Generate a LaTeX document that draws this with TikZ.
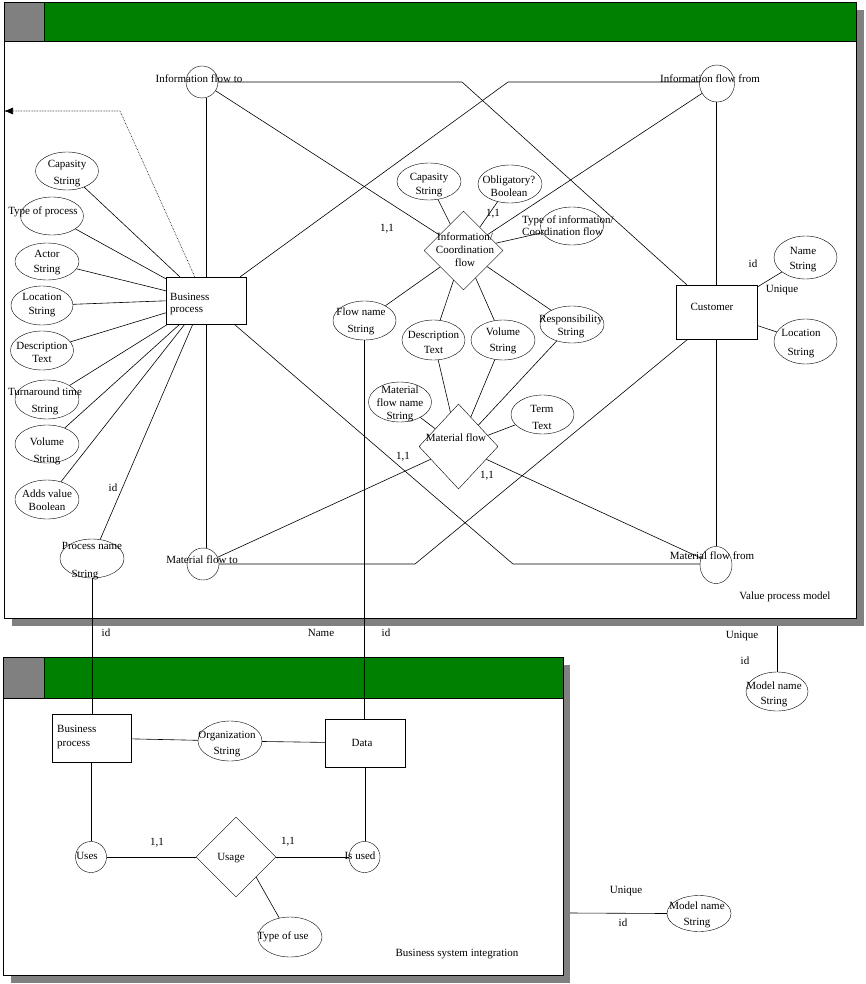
\documentclass[tikz,border=0pt]{standalone}
\usepackage{fontspec}
\setmainfont{Liberation Serif}
\usetikzlibrary{shapes.geometric,calc,arrows.meta}
\definecolor{hdrgreen}{RGB}{0,128,0}
\definecolor{shadowgray}{RGB}{128,128,128}
\begin{document}
\begin{tikzpicture}[x=1pt,y=-1pt,
  every node/.style={font=\fontsize{11}{12}\selectfont},
  attr/.style={draw, ellipse, inner sep=0pt},
  ent/.style={draw, rectangle, inner sep=0pt},
  rel/.style={draw, diamond, inner sep=0pt},
  txt/.style={inner sep=0pt, align=center},
  conn/.style={draw, line width=0.6pt},
  frame/.style={line width=0.8pt}]
\useasboundingbox (0,0) rectangle (866,984);

% ---------- frames ----------
\fill[shadowgray] (12,10) rectangle (864,626);
\draw[frame, fill=white] (4,2) rectangle (856,618);
\draw[frame, fill=hdrgreen] (4,2) rectangle (856,41);
\draw[frame, fill=shadowgray] (4,2) rectangle (44,41);

\fill[shadowgray] (11,665) rectangle (570,983);
\draw[frame, fill=white] (3,657) rectangle (563,975);
\draw[frame, fill=hdrgreen] (3,657) rectangle (563,698);
\draw[frame, fill=shadowgray] (3,657) rectangle (44,698);

% ---------- entities / relationships ----------
\node[ent, minimum width=80, minimum height=47] (bp) at (206,300.5) {};
\node[txt, anchor=west, align=left] (bpt) at (170,304) {Business\\process};
\node[ent, minimum width=81, minimum height=54] (cust) at (716.5,312) {};
\node[txt] (custt) at (712,307) {Customer};

\node[attr, minimum width=32, minimum height=32] (ifto) at (202,82) {};
\node[attr, minimum width=35, minimum height=37] (iffrom) at (717,83.5) {};
\node[attr, minimum width=32, minimum height=32] (mfto) at (203,564) {};
\node[attr, minimum width=32, minimum height=37] (mffrom) at (716,565) {};

\node[rel, minimum width=79, minimum height=79] (info) at (463.5,250.5) {};
\node[rel, minimum width=79, minimum height=85] (mat) at (458.5,446.5) {};

% left attributes
\node[attr, minimum width=63, minimum height=38] (capL) at (67,171) {};
\node[attr, minimum width=63, minimum height=38] (typ) at (52,216) {};
\node[attr, minimum width=64, minimum height=37] (actor) at (47,261.5) {};
\node[attr, minimum width=62, minimum height=39] (location) at (42,305.5) {};
\node[attr, minimum width=63, minimum height=39] (descL) at (42,350.5) {};
\node[attr, minimum width=64, minimum height=39] (turn) at (47,399.5) {};
\node[attr, minimum width=64, minimum height=38] (volL) at (47,444) {};
\node[attr, minimum width=64, minimum height=39] (adds) at (47,499.5) {};
\node[attr, minimum width=64, minimum height=39] (procname) at (92,558.5) {};

% middle attributes
\node[attr, minimum width=64, minimum height=37] (capM) at (429,181.5) {};
\node[attr, minimum width=64, minimum height=38] (oblig) at (510,184) {};
\node[attr, minimum width=63, minimum height=38] (typeinfo) at (572,226) {};
\node[attr, minimum width=63, minimum height=39] (flowname) at (364.5,320.5) {};
\node[attr, minimum width=63, minimum height=40] (descM) at (433.5,340) {};
\node[attr, minimum width=64, minimum height=40] (volM) at (503,340) {};
\node[attr, minimum width=64, minimum height=37] (resp) at (572,324.5) {};
\node[attr, minimum width=63, minimum height=40] (matname) at (400,402) {};
\node[attr, minimum width=63, minimum height=39] (term) at (542.5,414.5) {};

% right attributes
\node[attr, minimum width=63, minimum height=43] (nameR) at (805.5,257.5) {};
\node[attr, minimum width=63, minimum height=45] (locR) at (805.5,341.5) {};
\node[attr, minimum width=62, minimum height=39] (modelA) at (777,691.5) {};
\node[attr, minimum width=64, minimum height=36] (modelB) at (699,913.5) {};

% bottom frame
\node[ent, minimum width=79, minimum height=48] (bp2) at (91.5,738) {};
\node[txt, anchor=west, align=left] (bp2t) at (57,737) {Business\\[2pt]process};
\node[attr, minimum width=64, minimum height=40] (org) at (230,741) {};
\node[ent, minimum width=80, minimum height=48] (data) at (365,743) {};
\node[txt] (datat) at (362,743) {Data};
\node[attr, minimum width=31, minimum height=31] (uses) at (91,857) {};
\node[rel, minimum width=80, minimum height=80] (usage) at (236,857) {};
\node[txt] (usaget) at (231,858) {Usage};
\node[attr, minimum width=31, minimum height=31] (isused) at (364.5,857) {};
\node[attr, minimum width=64, minimum height=40] (typeuse) at (290,937) {};

% ---------- connector coordinates ----------
\coordinate (kIF) at (508,82);
\coordinate (kIT) at (462,82);
\coordinate (kMT) at (415,564);
\coordinate (kMF) at (513,564);
\coordinate (arrowend) at (4,111);
\coordinate (dotbend) at (120,111);
\coordinate (vpmedge) at (777,626);
\coordinate (bsiedge) at (570,913);

% ---------- connectors ----------
\draw[conn] (bp.north) -- (bp.north |- ifto.south);
\draw[conn] (bp.south) -- (bp.south |- mfto.north);
\draw[conn] (cust.north) -- (cust.north |- iffrom.south);
\draw[conn] (cust.south) -- (cust.south |- mffrom.north);
\draw[conn] (ifto) -- (info);
\draw[conn] (iffrom) -- (info);
\draw[conn] (mfto) -- (mat);
\draw[conn] (mffrom) -- (mat);
\draw[conn] ($(bp.north east)+(-6,0)$) -- (kIF) -- (kIF -| iffrom.west);
\draw[conn] (ifto.east) -- (kIT) -- ($(cust.north west)+(11,0)$);
\draw[conn] ($(bp.south east)+(-12,0)$) -- (kMF) -- (kMF -| mffrom.west);
\draw[conn] (mfto.east) -- (kMT) -- ($(cust.south west)+(12,0)$);

\draw[conn] (capL) -- ($(bp.north west)+(14,0)$);
\draw[conn] (typ) -- ($(bp.north west)+(0,2)$);
\draw[conn] (actor) -- ($(bp.north west)+(0,14)$);
\draw[conn] (location) -- ($(bp.north west)+(0,24)$);
\draw[conn] (descL) -- ($(bp.north west)+(0,36)$);
\draw[conn] (turn) -- ($(bp.south west)+(2,0)$);
\draw[conn] (volL) -- ($(bp.south west)+(14,0)$);
\draw[conn] (adds) -- ($(bp.south west)+(19,0)$);
\draw[conn] (procname) -- ($(bp.south west)+(27,0)$);
\draw[conn, densely dotted, -{Latex[length=9pt,width=7pt]}] ($(bp.north west)+(29,0)$) -- (dotbend) -- (arrowend);

\foreach \a in {capM,oblig,typeinfo,flowname,descM,volM,resp}
  \draw[conn] (\a) -- (info);
\foreach \a in {matname,descM,volM,resp,term}
  \draw[conn] (\a) -- (mat);

\draw[conn] (flowname.south) -- (flowname.south |- data.north);
\draw[conn] (procname.south) -- (procname.south |- bp2.north);
\draw[conn] (cust) -- (nameR);
\draw[conn] (cust) -- (locR);
\draw[conn] (bp2) -- (org);
\draw[conn] (org) -- (data);
\draw[conn] (bp2.south) -- (bp2.south |- uses.north);
\draw[conn] (data.south) -- (data.south |- isused.north);
\draw[conn] (uses) -- (usage);
\draw[conn] (usage) -- (isused);
\draw[conn] ($(usage.east)!0.5!(usage.south)$) -- (typeuse);
\draw[conn] (vpmedge) -- (modelA.north);
\draw[conn] (bsiedge) -- (modelB.west);

% ---------- texts ----------
\node[txt] (iftot) at (199,79) {Information flow to};
\node[txt] (iffromt) at (710,79) {Information flow from};
\node[txt] (mftot) at (202,560) {Material flow to};
\node[txt] (mffromt) at (712,556) {Material flow from};
\node[txt] (infot) at (465,250) {Information/\\[1pt]Coordination\\[1pt]flow};
\node[txt] (matt) at (456,438) {Material flow};

\node[txt] (capLt) at (67,173.5) {Capasity\\[5pt]String};
\node[txt] (typt) at (43,212) {Type of process};
\node[txt] (actort) at (47,262.5) {Actor\\[3pt]String};
\node[txt] (locationt) at (42,305) {Location\\[2pt]String};
\node[txt] (descLt) at (42,352.5) {Description\\[1pt]Text};
\node[txt] (turnt) at (45,401.5) {Turnaround time\\[5pt]String};
\node[txt] (volLt) at (47,451.5) {Volume\\[5pt]String};
\node[txt] (addst) at (47,500.5) {Adds value\\[1pt]Boolean};
\node[txt] (pn1) at (92,546) {Process name};
\node[txt] (pn2) at (85,575) {String};

\node[txt] (capMt) at (429,185) {Capasity\\[2pt]String};
\node[txt] (obligt) at (509,186.5) {Obligatory?\\[1pt]Boolean};
\node[txt, anchor=west, align=left] (typeinfot) at (522,226) {Type of information/\\Coordination flow};
\node[txt] (flownamet) at (361,321.5) {Flow name\\[5pt]String};
\node[txt] (descMt) at (433.5,342.5) {Description\\[3pt]Text};
\node[txt] (volMt) at (503,341) {Volume\\[4pt]String};
\node[txt] (respt) at (571,326.5) {Responsibility\\[1pt]String};
\node[txt] (matnamet) at (400,403.5) {Material\\[1pt]flow name\\[1pt]String};
\node[txt] (termt) at (542,417.5) {Term\\[5pt]Text};
\node[txt] (nameRt) at (803,259.5) {Name\\[3pt]String};
\node[txt] (locRt) at (801,343.5) {Location\\[7pt]String};
\node[txt] (modelAt) at (774,694.5) {Model name\\[3pt]String};
\node[txt] (modelBt) at (697,915) {Model name\\[4pt]String};

\node[txt] (orgt) at (227,744) {Organization\\[4pt]String};
\node[txt] (usest) at (87,856) {Uses};
\node[txt] (isusedt) at (360,856) {Is used};
\node[txt] (typeuset) at (283,937) {Type of use};

\node[txt] (l11a) at (387,229) {1,1};
\node[txt] (l11b) at (493,214) {1,1};
\node[txt] (l11c) at (403,457) {1,1};
\node[txt] (l11d) at (487,476) {1,1};
\node[txt] (l11e) at (157,843) {1,1};
\node[txt] (l11f) at (288,842) {1,1};
\node[txt] (idcust) at (753,264) {id};
\node[txt] (uniqcust) at (782,290) {Unique};
\node[txt] (idproc) at (113,488) {id};
\node[txt] (vpm) at (785,597) {Value process model};
\node[txt] (bsi) at (457,954) {Business system integration};
\node[txt] (namelbl) at (321,633) {Name};
\node[txt] (iddata) at (386,633) {id};
\node[txt] (idpn) at (106,633) {id};
\node[txt] (uniqA) at (742,636) {Unique};
\node[txt] (idA) at (745,661) {id};
\node[txt] (uniqB) at (626,891) {Unique};
\node[txt] (idB) at (623,923) {id};
\end{tikzpicture}
\end{document}
